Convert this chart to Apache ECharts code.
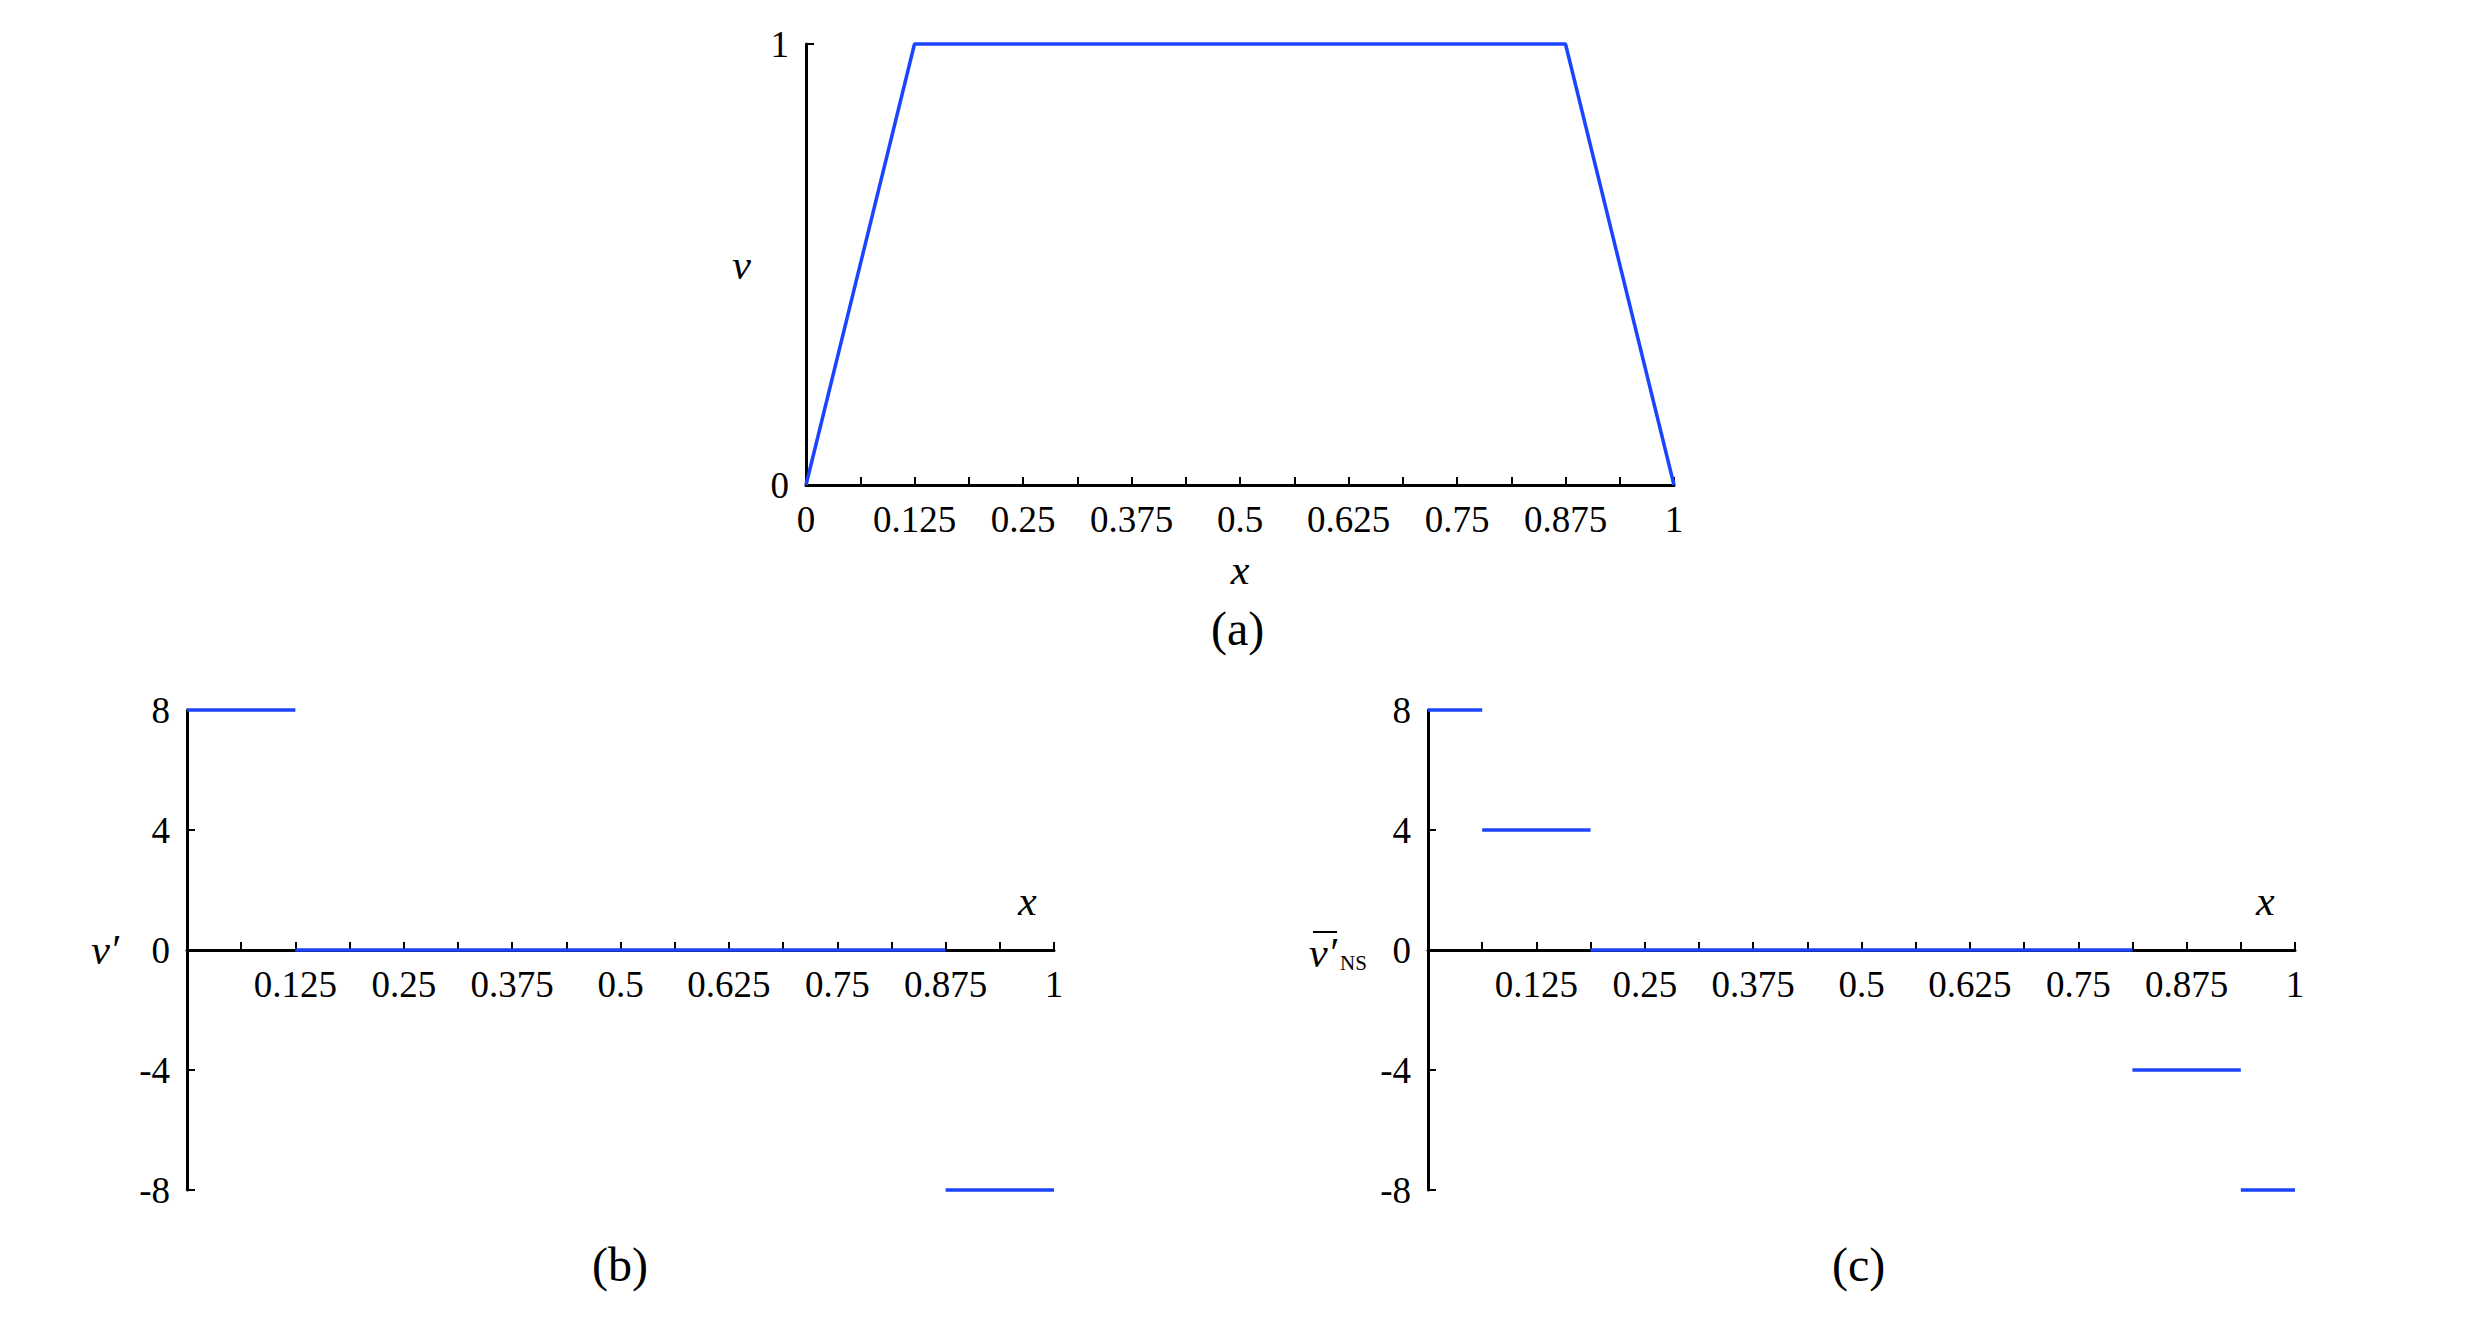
<!DOCTYPE html>
<html>
<head>
<meta charset="utf-8">
<script src="https://cdn.jsdelivr.net/npm/echarts@6/dist/echarts.min.js"></script>
<style>
  html, body { margin: 0; padding: 0; background: #fff; }
  #chart { width: 2482px; height: 1320px; }
</style>
</head>
<body>
<div id="chart"></div>
<script>
//--------------------------------
// Data
//--------------------------------
// (a) v(x): trapezoid
const aX = [0, 0.125, 0.875, 1];
const aV = [0, 1, 1, 0];

// (b) v'(x): piecewise constant
const bFrom = [0, 0.125, 0.875];
const bTo = [0.125, 0.875, 1];
const bVal = [8, 0, -8];

// (c) mean v'_NS: piecewise constant
const cFrom = [0, 0.0625, 0.1875, 0.8125, 0.9375];
const cTo = [0.0625, 0.1875, 0.8125, 0.9375, 1];
const cVal = [8, 4, 0, -4, -8];

// tick labels
const xLabelsA = [0, 0.125, 0.25, 0.375, 0.5, 0.625, 0.75, 0.875, 1];
const xLabelsBC = [0.125, 0.25, 0.375, 0.5, 0.625, 0.75, 0.875, 1];

//--------------------------------
// Style
//--------------------------------
const FONT = 'Liberation Serif';
const BLUE = '#1a44ff';
const tickFont = { fontFamily: FONT, fontSize: 37, color: '#000' };
const nameFont = { fontFamily: FONT, fontSize: 42, fontStyle: 'italic', color: '#000' };

const axisLine = { show: true, onZero: false, lineStyle: { color: '#000', width: 3 } };
const axisTick = { show: true, inside: true, length: 8, lineStyle: { color: '#000', width: 2 } };

const pickLabel = (list) => (v) => {
    for (let i = 0; i < list.length; i++) {
        if (Math.abs(list[i] - v) < 1e-9) return String(list[i]);
    }
    return '';
};

const makeX = (gridIndex, labels, extra) => Object.assign({
    type: 'value',
    gridIndex: gridIndex,
    position: 'bottom',
    min: 0,
    max: 1,
    interval: 0.0625,
    axisLine: axisLine,
    axisTick: axisTick,
    splitLine: { show: false },
    axisLabel: Object.assign({ margin: 16, formatter: pickLabel(labels), showMinLabel: true, showMaxLabel: true }, tickFont)
}, extra || {});

const makeY = (gridIndex, min, max, interval, extra) => Object.assign({
    type: 'value',
    gridIndex: gridIndex,
    position: 'left',
    min: min,
    max: max,
    interval: interval,
    axisLine: axisLine,
    axisTick: axisTick,
    splitLine: { show: false },
    axisLabel: Object.assign({ margin: 17 }, tickFont)
}, extra || {});

// one line series per constant segment
const stepSeries = (axisIndex, from, to, val) => from.map((f, i) => ({
    type: 'line',
    xAxisIndex: axisIndex,
    yAxisIndex: axisIndex,
    symbol: 'none',
    clip: false,
    silent: true,
    lineStyle: { color: BLUE, width: 3.5 },
    data: [[f, val[i]], [to[i], val[i]]]
}));

const myChart = echarts.init(document.getElementById('chart'), null, { renderer: 'svg' });

let options = {
    animation: false,
    backgroundColor: '#fff',
    grid: [
        { left: 806, top: 44, width: 868, height: 441 },
        { left: 187, top: 710, width: 867, height: 480 },
        { left: 1428, top: 710, width: 867, height: 480 }
    ],
    xAxis: [
        makeX(0, xLabelsA, {
            name: 'x', nameLocation: 'middle', nameGap: 64, nameTextStyle: nameFont
        }),
        // x axis of (b) and (c) runs through v = 0, half the grid height up
        makeX(1, xLabelsBC, { offset: -240 }),
        makeX(2, xLabelsBC, { offset: -240 })
    ],
    yAxis: [
        makeY(0, 0, 1, 1, {
            name: 'v', nameLocation: 'middle', nameRotate: 0, nameGap: 55, nameTextStyle: nameFont
        }),
        makeY(1, -8, 8, 4, {
            name: 'v\u2032', nameLocation: 'middle', nameRotate: 0, nameGap: 68, nameTextStyle: nameFont
        }),
        makeY(2, -8, 8, 4)
    ],
    series: [
        {
            type: 'line',
            xAxisIndex: 0,
            yAxisIndex: 0,
            symbol: 'none',
            clip: false,
            silent: true,
            lineStyle: { color: BLUE, width: 3.5 },
            data: aX.map((x, i) => [x, aV[i]])
        }
    ].concat(stepSeries(1, bFrom, bTo, bVal), stepSeries(2, cFrom, cTo, cVal)),
    graphic: [
        // x labels of (b) and (c), above the right end of the axis
        { type: 'text', left: 1018, top: 880, style: Object.assign({ text: 'x' }, nameFont) },
        { type: 'text', left: 2256, top: 880, style: Object.assign({ text: 'x' }, nameFont) },
        // y label of (c): v' with overbar and subscript NS
        { type: 'text', left: 1309, top: 932, style: Object.assign({ text: 'v\u2032' }, nameFont) },
        { type: 'text', left: 1340, top: 952, style: { text: 'NS', fontFamily: FONT, fontSize: 21, fill: '#000' } },
        { type: 'line', shape: { x1: 1313, y1: 932, x2: 1337, y2: 932 }, style: { stroke: '#000', lineWidth: 2 } },
        // panel captions
        { type: 'text', left: 1211, top: 604, style: { text: '(a)', fontFamily: FONT, fontSize: 48, fill: '#000' } },
        { type: 'text', left: 592, top: 1240, style: { text: '(b)', fontFamily: FONT, fontSize: 48, fill: '#000' } },
        { type: 'text', left: 1832, top: 1240, style: { text: '(c)', fontFamily: FONT, fontSize: 48, fill: '#000' } }
    ]
};

myChart.setOption(options);
</script>
</body>
</html>
